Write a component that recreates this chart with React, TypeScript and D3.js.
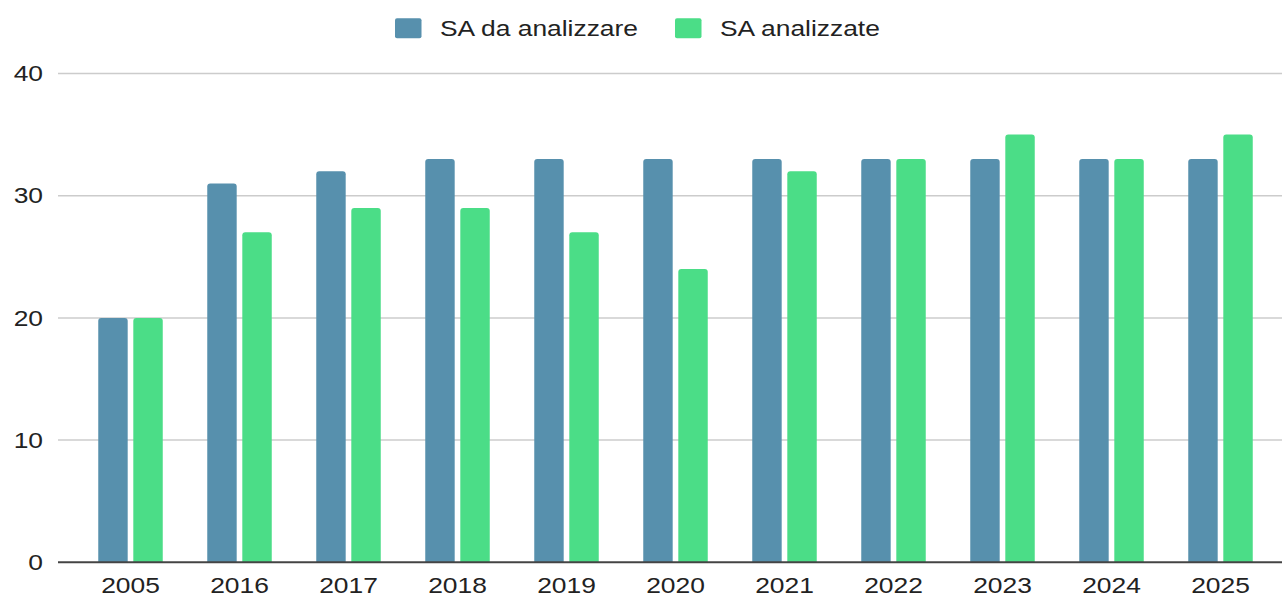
import React from "react";
import * as d3 from "d3";

const categories = ["2005", "2016", "2017", "2018", "2019", "2020", "2021", "2022", "2023", "2024", "2025"];
const seriesNames = ["SA da analizzare", "SA analizzate"];
const daAnalizzare = [20, 31, 32, 33, 33, 33, 33, 33, 33, 33, 33];
const analizzate = [20, 27, 29, 29, 27, 24, 32, 33, 35, 33, 35];
const yTicks = [0, 10, 20, 30, 40];
const colors = ["#5790ad", "#4bdd87"];

const W = 1282;
const H = 595;
const SX = 1.2;
const FONT = "'Liberation Sans', Arial, sans-serif";

function roundedTopBar(x: number, y: number, w: number, h: number, r: number) {
  const rr = Math.min(r, h / 2, w / 2);
  return `M${x},${y + h}V${y + rr}Q${x},${y} ${x + rr},${y}H${x + w - rr}Q${x + w},${y} ${x + w},${y + rr}V${y + h}Z`;
}

export default function App() {
  const x0 = d3.scaleBand<string>().domain(categories).range([76, 1275]).paddingInner(0).paddingOuter(0);
  const groupW = 64.5;
  const x1 = d3.scaleBand<string>().domain(seriesNames).range([0, groupW]).paddingInner(0.16);
  const y = d3.scaleLinear().domain([0, 40]).range([562.3, 73.5]);
  const series = [daAnalizzare, analizzate];

  const legendItems = [
    { name: seriesNames[0], sx: 395, tx: 440 },
    { name: seriesNames[1], sx: 675, tx: 720 },
  ];

  return (
    <svg width={W} height={H} style={{ position: "absolute", left: 0, top: 0, display: "block", background: "#fff" }}>
      {yTicks.filter((t) => t > 0).map((t) => (
        <line key={t} x1={58} x2={W} y1={y(t)} y2={y(t)} stroke="#cccccc" strokeWidth={1.5} />
      ))}
      {yTicks.map((t) => (
        <text
          key={"l" + t}
          transform={`translate(43,${y(t)}) scale(${SX},1)`}
          textAnchor="end"
          dominantBaseline="central"
          fontFamily={FONT}
          fontSize={22}
          fill="#222"
        >
          {t}
        </text>
      ))}
      {categories.map((c, i) => {
        const gx = (x0(c) as number) + x0.bandwidth() / 2 - groupW / 2;
        return (
          <g key={c}>
            {series.map((s, k) => {
              const bx = gx + (x1(seriesNames[k]) as number);
              const by = y(s[i]);
              return (
                <path
                  key={k}
                  d={roundedTopBar(bx, by, x1.bandwidth(), y(0) - by, 3)}
                  fill={colors[k]}
                />
              );
            })}
            <text
              transform={`translate(${(x0(c) as number) + x0.bandwidth() / 2},${585}) scale(${SX},1)`}
              textAnchor="middle"
              dominantBaseline="central"
              fontFamily={FONT}
              fontSize={22}
              fill="#222"
            >
              {c}
            </text>
          </g>
        );
      })}
      <line x1={58} x2={W} y1={y(0)} y2={y(0)} stroke="#444" strokeWidth={2} />
      {legendItems.map((it, k) => (
        <g key={it.name}>
          <rect x={it.sx} y={18.3} width={26.5} height={20} rx={2} fill={colors[k]} />
          <text
            transform={`translate(${it.tx},${28.5}) scale(${SX},1)`}
            dominantBaseline="central"
            fontFamily={FONT}
            fontSize={22}
            fill="#222"
          >
            {it.name}
          </text>
        </g>
      ))}
    </svg>
  );
}
